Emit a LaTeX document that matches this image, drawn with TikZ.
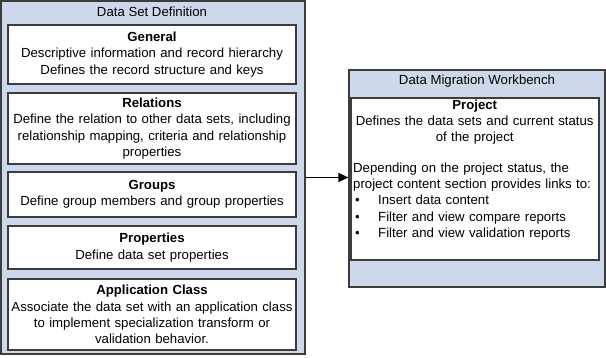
\documentclass[tikz,border=0pt]{standalone}
\usepackage{fontspec}
\setmainfont{Liberation Sans}
\usetikzlibrary{arrows.meta}
\definecolor{panelblue}{RGB}{205,217,234}
\definecolor{edgegray}{RGB}{60,60,60}
\begin{document}
\begin{tikzpicture}[x=1pt,y=-1pt,
  every node/.style={font=\fontsize{13.2}{16.3}\selectfont},
  panel/.style={draw=edgegray,line width=1.2pt,fill=panelblue,rectangle,inner sep=0pt},
  card/.style={draw=edgegray,line width=1.2pt,fill=white,rectangle,inner sep=0pt,minimum width=288pt,align=center,text width=286pt},
  title/.style={inner sep=0pt,anchor=center},
  link/.style={draw=black,line width=1.2pt,-{Triangle[length=10pt,width=9pt]}}]
\useasboundingbox (0,0) rectangle (606,357);
% left panel
\node[panel,minimum width=304pt,minimum height=353pt] (dsd) at (153,177.5) {};
\node[title] (dsdt) at (152,12) {Data Set Definition};
\node[card,minimum height=59pt] (gen) at (152,54.5) {\textbf{General}\\Descriptive information and record hierarchy\\Defines the record structure and keys};
\node[card,minimum height=71pt] (rel) at (152,128.5) {\textbf{Relations}\\Define the relation to other data sets, including\\relationship mapping, criteria and relationship\\properties};
\node[card,minimum height=45pt] (grp) at (152,194.5) {\textbf{Groups}\\Define group members and group properties};
\node[card,minimum height=43pt] (prop) at (152,247.5) {\textbf{Properties}\\Define data set properties};
\node[card,minimum height=71pt] (app) at (152,314.5) {\textbf{Application Class}\\Associate the data set with an application class\\to implement specialization transform or\\validation behavior.};
% right panel
\node[panel,minimum width=256pt,minimum height=217pt] (dmw) at (477,178.5) {};
\node[title] (dmwt) at (477,81) {Data Migration Workbench};
\node[draw=edgegray,line width=1.2pt,fill=white,rectangle,inner sep=0pt,minimum width=248pt,minimum height=162pt] (proj) at (475,179) {};
\node[anchor=north west,inner sep=0pt,text width=243pt,align=left] (projt) at (353,99.5) {%
\centering\textbf{Project}\\Defines the data sets and current status\\of the project\par
\vspace{14pt}\raggedright
Depending on the project status, the\\
project content section provides links to:\\
\makebox[25pt][l]{\hspace{2pt}\textbullet}Insert data content\\
\makebox[25pt][l]{\hspace{2pt}\textbullet}Filter and view compare reports\\
\makebox[25pt][l]{\hspace{2pt}\textbullet}Filter and view validation reports};
\draw[link] (dsd.east) -- (dsd.east -| dmw.west);
\end{tikzpicture}
\end{document}
